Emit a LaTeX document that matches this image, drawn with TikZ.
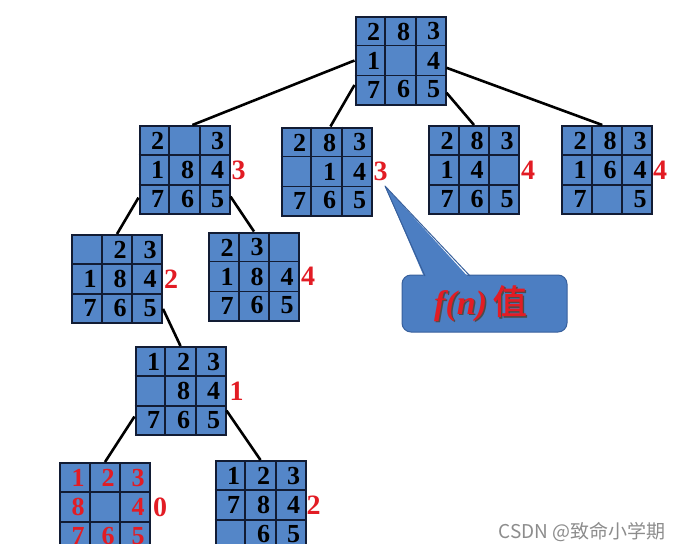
\documentclass[tikz,border=0pt]{standalone}
\usepackage{fontspec}
\setmainfont{Liberation Serif}
\newfontfamily\cjk[AutoFakeBold=2]{Noto Sans CJK SC}
\usetikzlibrary{positioning,calc}
\definecolor{tile}{RGB}{84,134,200}
\definecolor{gridink}{RGB}{18,28,52}
\definecolor{fred}{RGB}{226,28,36}
\definecolor{callblue}{RGB}{76,126,194}
\definecolor{callrim}{RGB}{56,96,156}
\tikzset{
  board/.style={draw=gridink,line width=2pt,fill=tile,minimum width=90pt,minimum height=88pt,inner sep=0pt},
  cellrule/.style={draw=gridink,line width=1.8pt},
  tilenum/.style={font=\fontsize{26}{26}\selectfont\bfseries,inner sep=0pt},
  fval/.style={font=\fontsize{28}{28}\selectfont\bfseries,text=fred,inner sep=0pt},
  move/.style={draw=black,line width=2.6pt},
}
% one 3x3 board: [digit colour]{name}{centre}{nine entries}
\newcommand\puzzle[4][black]{%
  \node[board] (#2) at (#3) {};
  \foreach \k in {1,2} {
    \draw[cellrule] ($(#2.north west)!\k/3!(#2.north east)$) -- ($(#2.south west)!\k/3!(#2.south east)$);
    \draw[cellrule] ($(#2.north west)!\k/3!(#2.south west)$) -- ($(#2.north east)!\k/3!(#2.south east)$);
  }
  \foreach \v [count=\i from 0] in {#4} {
    \pgfmathtruncatemacro\rowi{div(\i,3)}
    \pgfmathtruncatemacro\coli{mod(\i,3)}
    \node[tilenum,text=#1] (#2-\i) at ($(#2.center)+(\coli*30-27,\rowi*29-29)$) {\v};
  }
}

\begin{document}
\begin{tikzpicture}[x=1pt,y=-1pt]
  \useasboundingbox (0,0) rectangle (683,555);
  \begin{scope}
    \clip (0,0) rectangle (683,543);
    % search tree
    \puzzle{root}{400.5,60.5}{2,8,3,1,{},4,7,6,5}
    \puzzle{A}{184.5,170}{2,{},3,1,8,4,7,6,5}
    \puzzle{B}{326.5,171.5}{2,8,3,{},1,4,7,6,5}
    \puzzle{C}{474,170}{2,8,3,1,4,{},7,6,5}
    \puzzle{D}{607,170}{2,8,3,1,6,4,7,{},5}
    \puzzle{E}{117,279}{{},2,3,1,8,4,7,6,5}
    \puzzle{F}{254,276.5}{2,3,{},1,8,4,7,6,5}
    \puzzle{G}{180.5,391}{1,2,3,{},8,4,7,6,5}
    \puzzle[fred]{H}{105,507}{1,2,3,8,{},4,7,6,5}
    \puzzle{I}{260.5,505}{1,2,3,7,8,4,{},6,5}

    \node[fval,right=1pt of A] (fA) {3};
    \node[fval,right=1pt of B] (fB) {3};
    \node[fval,right=1pt of C] (fC) {4};
    \node[fval,right=0pt of D] (fD) {4};
    \node[fval,right=1pt of E] (fE) {2};
    \node[fval,right=1pt of F] (fF) {4};
    \node[fval,right=3pt of G] (fG) {1};
    \node[fval,right=2pt of H] (fH) {0};
    \node[fval,right=0pt of I] (fI) {2};

    \draw[move] (root.west) -- (A.80);
    \draw[move] (root.208) -- (B.85);
    \draw[move] (root.-35) -- (C.north);
    \draw[move] (root.-9) -- (D.96);
    \draw[move] (A.211) -- (E.north);
    \draw[move] (A.-30) -- (F.north);
    \draw[move] (E.-33) -- (G.north);
    \draw[move] (G.209) -- (H.north);
    \draw[move] (G.-23) -- (I.north);

    % callout
    \node[draw=callrim,line width=1pt,fill=callblue,rounded corners=9pt,minimum width=165pt,minimum height=57pt] (note) at (484.5,303.5) {};
    \coordinate (tip) at (385,186);
    \coordinate (tl) at (425,276);
    \coordinate (tr) at (470,276);
    \fill[callblue] ($(tl)+(0,3)$) -- (tip) -- ($(tr)+(0,3)$) -- cycle;
    \draw[callrim,line width=1pt,line join=round] (tl) -- (tip) -- (tr);
    \node[text=black!70,font=\fontsize{34}{34}\selectfont\bfseries] (notes) at ($(note.center)+(-2.5,1.5)$) {\textit{f(n)}\,{\cjk 值}};
    \node[text=fred,font=\fontsize{34}{34}\selectfont\bfseries] (notet) at ($(note.center)+(-4,0)$) {\textit{f(n)}\,{\cjk 值}};

    \node[text=black!45,font=\cjk\fontsize{19}{19}\selectfont] (mark) at (582,532) {CSDN @致命小学期};
  \end{scope}
\end{tikzpicture}
\end{document}
